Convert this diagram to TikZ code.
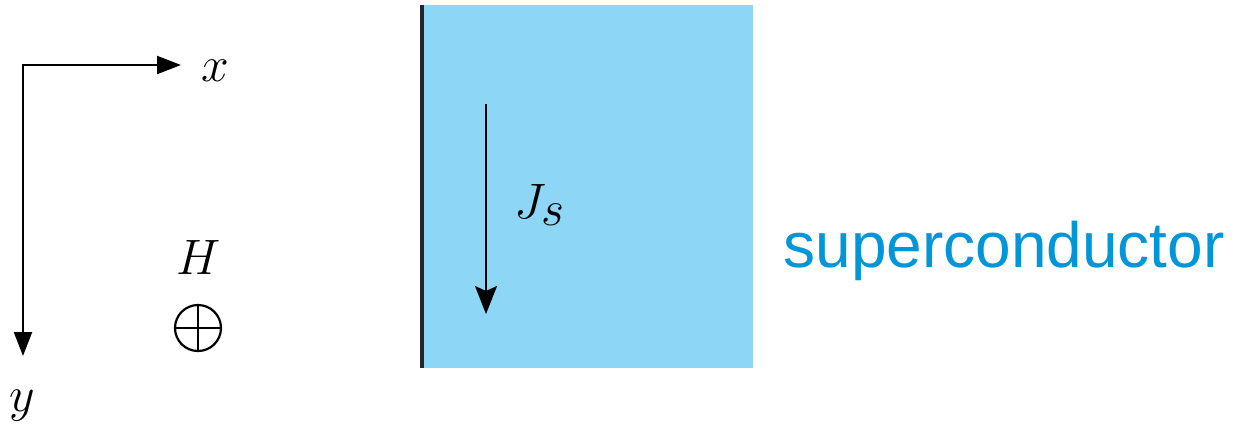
\documentclass[tikz,border=0pt]{standalone}
\usepackage{fontspec}
\newfontfamily\labelfont{Liberation Sans}
\usetikzlibrary{arrows.meta}
\definecolor{scfill}{RGB}{141,214,245}
\definecolor{sctext}{RGB}{0,150,216}
\begin{document}
\begin{tikzpicture}[x=0.5pt,y=-0.5pt,
  axis/.style={line width=1.1pt,-{Triangle[length=12pt,width=9pt]}},
  current/.style={line width=1pt,-{Stealth[length=14pt,width=11pt,inset=2.5pt]}},
  mathlbl/.style={inner sep=0pt,font=\fontsize{35}{40}\selectfont},
  biglbl/.style={inner sep=0pt,font=\fontsize{38}{44}\selectfont},
  fieldsym/.style={circle,draw,line width=1.1pt,minimum size=23pt,inner sep=0pt},
  sclabel/.style={inner sep=0pt,text=sctext,font=\labelfont\fontsize{32}{38}\selectfont}]
\useasboundingbox (0,0) rectangle (1234,435);
% axes
\coordinate (O) at (23,65);
\coordinate (xend) at (181,65);
\coordinate (yend) at (23,356);
\draw[axis] (O) -- (xend);
\draw[axis] ([yshift=0.55pt]O) -- (yend);
\node[biglbl] (xl) at (215,71) {$x$};
\node[biglbl] (yl) at (22,406) {$y$};
% field
\node[biglbl] (H) at (199,257) {$H$};
\node[fieldsym] (Hsym) at (198,328) {};
\draw[line width=1.1pt] (Hsym.north) -- (Hsym.south);
\draw[line width=1.1pt] (Hsym.west) -- (Hsym.east);
% superconductor
\fill[scfill] (422,5) rectangle (753,368);
\coordinate (wt) at (422,5);
\coordinate (wb) at (422,368);
\draw[line width=2pt,black!85] (wt) -- (wb);
\coordinate (jt) at (486,104);
\coordinate (jb) at (486,314);
\draw[current] (jt) -- (jb);
\node[mathlbl] (J) at (540,205) {$J_s$};
\node[sclabel] (sc) at (1004,251) {superconductor};
\end{tikzpicture}
\end{document}
